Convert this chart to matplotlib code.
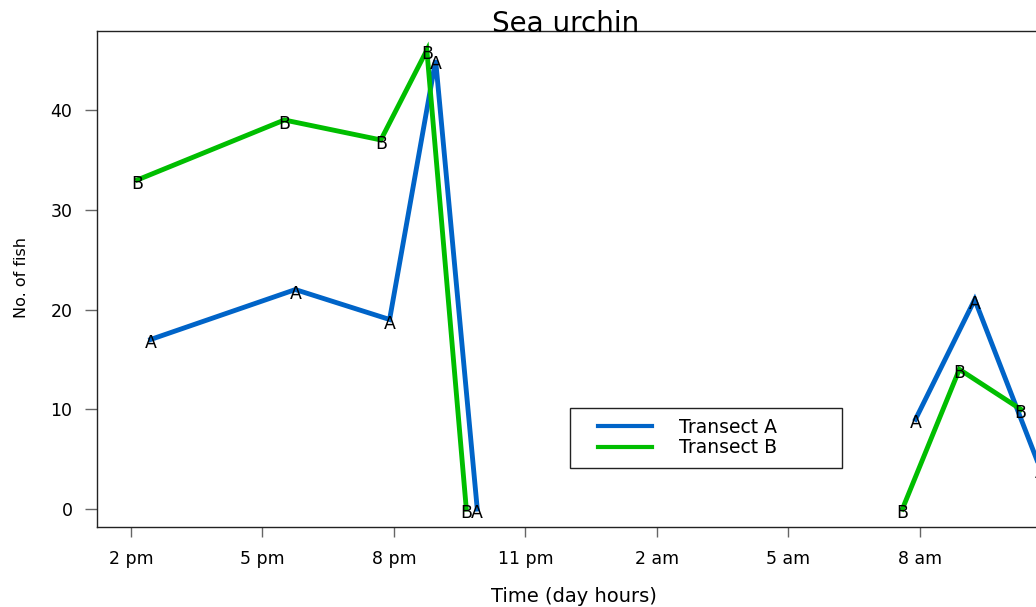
import numpy as np
import matplotlib.pyplot as plt
from matplotlib.patches import Rectangle

# hours counted from midnight of the first day (14 = 2 pm, 32 = 8 am next day)
hours_a = [14.45, 17.75, 19.9, 20.95, 21.9, np.nan, 31.9, 33.25, 34.75]
fish_a = [17, 22, 19, 45, 0, np.nan, 9, 21, 4]
hours_b = [14.15, 17.5, 19.7, 20.75, 21.65, np.nan, 31.6, 32.9, 34.3]
fish_b = [33, 39, 37, 46, 0, np.nan, 0, 14, 10]

tick_hours = [14, 17, 20, 23, 26, 29, 32]
tick_labels = ["2 pm", "5 pm", "8 pm", "11 pm", "2 am", "5 am", "8 am"]
y_ticks = [0, 10, 20, 30, 40]

BLUE = "#0064C8"
GREEN = "#00BE00"

plt.rcParams["font.family"] = ["DejaVu Sans"]

W, H = 1036, 607
fig = plt.figure(figsize=(W / 100, H / 100), dpi=100)
# the plot box runs off the right edge of the picture
ax = fig.add_axes([97 / W, 80 / H, (1060 - 97) / W, 496 / H])

ax.plot(hours_a, fish_a, color=BLUE, lw=3.5, solid_joinstyle="miter", label="Transect A")
ax.plot(hours_b, fish_b, color=GREEN, lw=3.5, solid_joinstyle="miter", label="Transect B")

for letter, xs, ys in [("A", hours_a, fish_a), ("B", hours_b, fish_b)]:
    for x, y in zip(xs, ys):
        if np.isnan(x):
            continue
        ax.annotate(letter, (x, y), xytext=(0, -6.5), textcoords="offset points",
                    ha="center", va="baseline", fontsize=12.5, color="black")

ax.set_xlim(13.224, 35.196)
ax.set_ylim(-1.80, 47.92)
ax.set_xticks(tick_hours)
ax.set_xticklabels(tick_labels)
ax.set_yticks(y_ticks)

for s in ["left", "top", "bottom"]:
    ax.spines[s].set_linewidth(1.0)
    ax.spines[s].set_color("#222222")
ax.spines["right"].set_visible(False)

ax.tick_params(axis="x", length=7.2, width=1, color="#666666", pad=9, labelsize=12.5)
ax.tick_params(axis="y", length=8.6, width=1, color="#666666", pad=9, labelsize=12.5)

fig.text(566 / W, 1 - 32 / H, "Sea urchin", ha="center", va="baseline", fontsize=20)
fig.text(574 / W, 1 - 602 / H, "Time (day hours)", ha="center", va="baseline", fontsize=14)
fig.text(22 / W, 1 - 278 / H, "No. of fish", ha="center", va="center", rotation=90, fontsize=11.5)

leg = ax.legend(loc="upper left", bbox_to_anchor=(598 / W, 1 - 418 / H),
                bbox_transform=fig.transFigure, frameon=False, fontsize=13.5,
                borderpad=0, borderaxespad=0, handlelength=2.88, handletextpad=1.44,
                labelspacing=0.06)
for line in leg.get_lines():
    line.set_linewidth(3.0)
fig.patches.append(Rectangle((570 / W, 1 - 468 / H), 272 / W, 60 / H, transform=fig.transFigure,
                             fill=False, edgecolor="#222222", lw=1.0, figure=fig))

fig.savefig("out.png", dpi=100)
